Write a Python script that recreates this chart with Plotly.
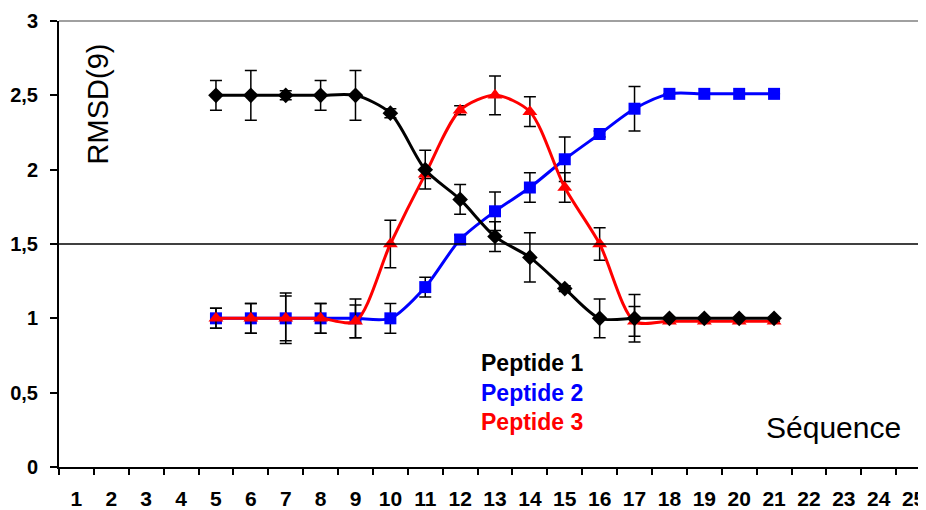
import plotly.graph_objects as go

# ---- data ----
categories = [str(i) for i in range(1, 26)]
seq = ["5", "6", "7", "8", "9", "10", "11", "12", "13", "14", "15", "16", "17", "18", "19", "20", "21"]

pep1 = [2.50, 2.50, 2.50, 2.50, 2.50, 2.38, 2.00, 1.80, 1.55, 1.41, 1.20, 1.00, 1.00, 1.00, 1.00, 1.00, 1.00]
pep1_err = [0.10, 0.167, 0.03, 0.10, 0.167, 0.03, 0.13, 0.10, 0.10, 0.165, 0.02, 0.13, 0.16, 0, 0, 0, 0]

pep2 = [1.00, 1.00, 1.00, 1.00, 1.00, 1.00, 1.21, 1.53, 1.72, 1.88, 2.07, 2.24, 2.41, 2.51, 2.51, 2.51, 2.51]
pep2_err = [0.067, 0.10, 0.15, 0.10, 0.13, 0.10, 0.067, 0.03, 0.13, 0.10, 0.15, 0.02, 0.15, 0, 0, 0, 0]

pep3 = [1.00, 1.00, 1.00, 1.00, 0.98, 1.50, 1.97, 2.40, 2.50, 2.39, 1.88, 1.50, 0.98, 0.98, 0.98, 0.98, 0.98]
pep3_err = [0.067, 0.10, 0.17, 0.10, 0.11, 0.16, 0.03, 0.03, 0.13, 0.10, 0.10, 0.11, 0.10, 0, 0, 0, 0]

y_tickvals = [0, 0.5, 1, 1.5, 2, 2.5, 3]
y_ticktext = ["0", "0,5", "1", "1,5", "2", "2,5", "3"]

series_names = ["Peptide 1", "Peptide 2", "Peptide 3"]
colors = ["#000000", "#0000FF", "#FF0000"]

FONT = "Liberation Sans, Arial, sans-serif"

fig = go.Figure()

def add(yvals, err, color, symbol, size, name):
    fig.add_trace(go.Scatter(
        x=seq, y=yvals, mode="lines+markers", name=name,
        line=dict(color=color, width=3, shape="spline", smoothing=0.8),
        marker=dict(symbol=symbol, size=size, color=color, line=dict(width=0)),
        error_y=dict(type="data", array=err, visible=True, color="black", thickness=1.5, width=6),
        showlegend=False,
    ))

add(pep2, pep2_err, colors[1], "square", 12, series_names[1])
add(pep3, pep3_err, colors[2], "triangle-up", 13, series_names[2])
add(pep1, pep1_err, colors[0], "diamond", 12, series_names[0])

# horizontal reference line at 1.5 and gray top border
fig.add_shape(type="line", xref="paper", yref="y", x0=0, x1=1, y0=1.5, y1=1.5,
              line=dict(color="black", width=1.5))
fig.add_shape(type="line", xref="paper", yref="paper", x0=0, x1=1, y0=1, y1=1,
              line=dict(color="#A0A0A0", width=2))

# axis titles (inside plot)
fig.add_annotation(text="RMSD(9)", xref="paper", yref="paper", x=0.045, y=0.815,
                   textangle=-90, showarrow=False, xanchor="center", yanchor="middle",
                   font=dict(family=FONT, size=29, color="black"))
fig.add_annotation(text="Séquence", xref="paper", yref="paper", x=0.8155, y=0.089,
                   showarrow=False, xanchor="left", yanchor="middle",
                   font=dict(family=FONT, size=30, color="black"))

# legend text
legend_y = [0.234, 0.167, 0.100]
for name, col, ly in zip(series_names, colors, legend_y):
    fig.add_annotation(text="<b>%s</b>" % name, xref="paper", yref="paper", x=0.4856, y=ly,
                       showarrow=False, xanchor="left", yanchor="middle",
                       font=dict(family=FONT, size=23, color=col))

fig.update_layout(
    width=918, height=502,
    margin=dict(l=51, r=0, t=13, b=40),
    paper_bgcolor="white", plot_bgcolor="white",
    font=dict(family=FONT, color="black"),
    xaxis=dict(
        type="category", categoryorder="array", categoryarray=categories,
        range=[-0.5, 24.27], tickson="boundaries",
        ticks="outside", ticklen=6, tickwidth=2, tickcolor="black",
        showline=True, linecolor="black", linewidth=2,
        showgrid=False, zeroline=False,
        tickfont=dict(family=FONT, size=21, color="black", weight="bold"),
        ticklabelstandoff=12,
    ),
    yaxis=dict(
        range=[0, 3], tickvals=y_tickvals, ticktext=y_ticktext,
        ticks="outside", ticklen=7, tickwidth=2, tickcolor="black",
        showline=True, linecolor="black", linewidth=2,
        showgrid=False, zeroline=False,
        tickfont=dict(family=FONT, size=20, color="black", weight="bold"),
        ticklabelstandoff=8,
    ),
)

fig.write_html("out.html")
